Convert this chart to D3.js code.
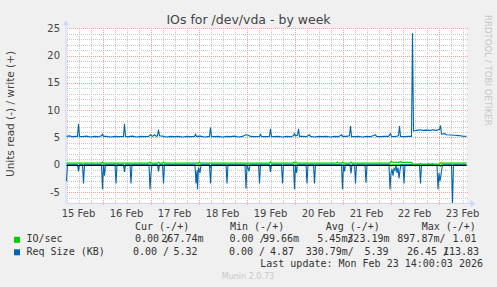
<!DOCTYPE html>
<html>
<head>
<meta charset="utf-8">
<script src="https://cdn.jsdelivr.net/npm/d3@7"></script>
<style>
  body { margin: 0; background: #f0f0f0; }
  svg { display: block; }
  text { font-family: "DejaVu Sans", sans-serif; }
  .mono { font-family: "DejaVu Sans Mono", monospace; font-size: 10px; fill: #333; white-space: pre; }
</style>
</head>
<body>
<div id="chart"></div>
<script>
// hours since 15 Feb 06:00 and values
var writeSize = [
  [0,5.2],[1.5,5.3],[3,5.15],[4.5,5.2],[5.5,5.2],[6,7.5],[6.5,5.2],[8,5.15],[10,5.25],[12,5.1],
  [14,5.2],[16,5.15],[17.5,5.3],[18,5.6],[18.5,5.2],[20,5.2],[22,5.1],[24,5.2],[26,5.15],[28.5,5.2],
  [29,7.5],[29.5,5.2],[31,5.15],[33,5.25],[35,5.1],[37,5.2],[39,5.15],[41,5.2],[42,5.5],[43,5.2],
  [44,5.5],[45,5.2],[45.5,5.3],[46,6.4],[46.5,5.3],[48,5.25],[50,5.1],[52,5.2],[54,5.15],[56,5.2],
  [58,5.1],[60,5.2],[62,5.15],[64,5.2],[64.5,5.6],[65,5.2],[67,5.25],[69,5.1],[71.5,5.2],[72,6.8],
  [72.5,5.2],[74,5.15],[76,5.2],[78,5.1],[80,5.2],[82,5.15],[84,5.25],[86,5.1],[88,5.2],[89.5,5.5],
  [91,5.4],[92,5.2],[94,5.15],[96.5,5.2],[97,5.6],[97.5,5.2],[99,5.15],[101.5,5.2],[102,6.6],[102.5,5.2],
  [104,5.15],[106,5.2],[108,5.1],[110,5.2],[112,5.15],[113.5,5.3],[114,5.7],[114.5,5.3],[115.5,5.4],[116,6.6],
  [116.5,5.2],[118,5.2],[120,5.15],[121.5,5.5],[122,5.2],[124,5.1],[126,5.2],[128,5.15],[130,5.2],[132,5.1],
  [134,5.2],[136,5.15],[137.5,5.5],[138,5.2],[140,5.2],[141.5,5.3],[142,7.1],[142.5,5.2],[144,5.15],[146,5.2],
  [148,5.1],[150,5.2],[152,5.15],[154.5,5.5],[155,5.2],[157,5.15],[159,5.2],[161,5.2],[162,5.7],[162.5,5.2],
  [164,5.15],[166,5.3],[166.5,7.1],[167,5.2],[169,5.15],[171,5.2],[172.5,5.2],[173,24.1],[173.5,6.2],[175,6.3],
  [177,6.4],[178,6.3],[180,6.35],[182,6.3],[183,6.4],[185,6.3],[186.5,6.5],[187,7.2],[187.5,5.6],[189,5.7],
  [190,5.5],[192,5.45],[194,5.4],[196,5.35],[198,5.25],[200,5.2]
];
var readSize = [
  [0,-3],[0.5,0],[5.5,0],[6,-1.2],[6.5,0],[8,0],[8.5,-3.4],[9,0],[17.5,0],[18,-4.5],[18.5,0],[19,-2],[19.5,0],
  [24.25,0],[24.75,-3.4],[25.25,0],[28.5,0],[29,-1.3],[29.5,0],[31.75,0],[32.25,-3.4],[32.75,0],
  [41.25,0],[41.75,-4.5],[42.25,-1.5],[42.75,0],[45.5,0],[46,-1.2],[46.5,0],[48,0],[48.5,-3.4],[49,0],
  [64.25,0],[64.75,-3.4],[65.25,-1],[65.5,-4.5],[66,-0.5],[66.75,-1.5],[67.25,0],[71.5,0],[72,-3.4],[72.5,0],
  [79.75,0],[80.25,-3.4],[80.75,0],[89.25,0],[89.75,-4.4],[90.25,0],[91.25,-1.2],[91.75,0],[96,0],[96.5,-3.4],[97,0],
  [101.5,0],[102,-1.3],[102.5,0],[107.5,0],[108,-3.4],[108.5,0],[113.5,0],[114,-4.5],[114.5,0],[115,-1.5],[115.5,0],
  [119.75,0],[120.25,-3.4],[120.75,0],[123.5,0],[124,-3.4],[124.5,0],[137.5,0],[138,-4.5],[138.5,0],[139,-1.2],[139.5,0],
  [141.75,0],[142.25,-1.6],[142.75,0],[144,0],[144.5,-3.4],[145,0],[149.25,0],[149.75,-3.3],[150.25,0],
  [161.25,0],[161.75,-4.5],[162.25,-1.5],[162.75,-0.8],[163.25,-2],[163.75,-0.7],[164.25,-1],[164.75,0],[165.25,-1.5],
  [165.75,-0.5],[166.25,-2.5],[166.75,-1],[167.25,0],[168.25,0],[168.75,-3.4],[169.25,0],[176.5,0],[177,-3.4],[177.5,0],
  [185.25,0],[185.75,-4.5],[186.25,-1.5],[186.75,-3],[187.25,-1.8],[187.75,-0.5],[188.25,0],[192.5,0],[193,-7],[193.5,0],[200,0]
];
var writeIO = [
  [0,0.3],[17.5,0.3],[18,0.5],[18.5,0.3],[41.25,0.3],[41.75,0.5],[42.25,0.3],[45.5,0.3],[46,0.45],[46.5,0.3],
  [48,0.3],[48.5,0.5],[49,0.3],[66,0.3],[66.5,0.5],[67,0.3],[101.5,0.3],[102,0.55],[102.5,0.3],
  [113.25,0.3],[113.75,0.5],[114.25,0.3],[114.75,0.5],[115.25,0.3],[135,0.3],[135.5,0.45],[136,0.3],
  [137.5,0.3],[138,0.5],[138.5,0.3],[141.75,0.3],[142.25,0.5],[142.75,0.3],[161.75,0.3],[162.25,0.6],
  [163,0.5],[166.5,0.45],[167,0.6],[167.5,0.45],[172.5,0.45],[173,0.13],[176.5,0.12],[177,0.22],[177.5,0.12],
  [180.5,0.12],[181,0.2],[182,0.14],[183,0.2],[183.5,0.12],[186.5,0.15],[187,0.35],[187.5,0.3],[200,0.3]
];
var readIO = [
  [0,0],[5.5,0],[6,-0.4],[6.5,0],[28.5,0],[29,-0.4],[29.5,0],[45.5,0],[46,-0.3],[46.5,0],[71.5,0],[72,-0.4],[72.5,0],
  [101.5,0],[102,-0.4],[102.5,0],[141.75,0],[142.25,-0.3],[142.75,0],[186.5,0],[187,-0.3],[187.5,0],[200,0]
];
var dayLabels = ["15 Feb","16 Feb","17 Feb","18 Feb","19 Feb","20 Feb","21 Feb","22 Feb","23 Feb"];
var yTicks = [-5, 0, 5, 10, 15, 20, 25];
var legendNames = ["IO/sec", "Req Size (KB)"];
var legendColors = ["#00cc00", "#0066b3"];
var legendHead = ["Cur (-/+)", "Min (-/+)", "Avg (-/+)", "Max (-/+)"];
var legendNeg = [["0.00 /", "0.00 /", "5.45m/", "897.87m/"], ["0.00 /", "0.00 /", "330.79m/", "26.45 /"]];
var legendPos = [["267.74m", "99.66m", "323.19m", " 1.01"], ["5.32", "4.87", "5.39", "113.83"]];

var W = 497, H = 287;
var start = Date.UTC(2026, 1, 15, 6, 0);
var end = Date.UTC(2026, 1, 23, 14, 0);
var pLeft = 66.5, pRight = 466.5, pTop = 28.3, pBottom = 203;

var x = d3.scaleUtc().domain([new Date(start), new Date(end)]).range([pLeft, pRight]);
var y = d3.scaleLinear().domain([-7, 25]).range([pBottom, pTop]);
function t(h) { return new Date(start + h * 3600e3); }

var svg = d3.select('#chart').append('svg').attr('width', W).attr('height', H);
svg.append('rect').attr('width', W).attr('height', H).attr('fill', '#f0f0f0');
svg.append('rect').attr('x', pLeft).attr('y', pTop).attr('width', pRight - pLeft).attr('height', pBottom - pTop).attr('fill', '#fff');

// grid
var g = svg.append('g').attr('shape-rendering', 'crispEdges');
var minorY = d3.range(-7, 26).filter(function(v) { return v % 5 !== 0; });
g.selectAll('.hmin').data(minorY).enter().append('line')
  .attr('x1', pLeft).attr('x2', pRight + 2)
  .attr('y1', function(d) { return Math.round(y(d)) + 0.5; }).attr('y2', function(d) { return Math.round(y(d)) + 0.5; })
  .attr('stroke', '#c8c8c8').attr('stroke-dasharray', '1,1');
var hours6 = d3.utcHour.every(6).range(new Date(start), new Date(end));
g.selectAll('.vmin').data(hours6.filter(function(d) { return d.getUTCHours() !== 0; })).enter().append('line')
  .attr('x1', function(d) { return Math.round(x(d)) + 0.5; }).attr('x2', function(d) { return Math.round(x(d)) + 0.5; })
  .attr('y1', pTop).attr('y2', pBottom)
  .attr('stroke', '#c8c8c8').attr('stroke-dasharray', '1,1');
g.selectAll('.hmaj').data(yTicks).enter().append('line')
  .attr('x1', pLeft).attr('x2', pRight + 2)
  .attr('y1', function(d) { return Math.round(y(d)) + 0.5; }).attr('y2', function(d) { return Math.round(y(d)) + 0.5; })
  .attr('stroke', '#f0a0a0').attr('stroke-dasharray', '1,1');
g.selectAll('.vmaj').data(d3.utcDay.range(new Date(start), new Date(end))).enter().append('line')
  .attr('x1', function(d) { return Math.round(x(d)) + 0.5; }).attr('x2', function(d) { return Math.round(x(d)) + 0.5; })
  .attr('y1', pTop).attr('y2', pBottom + 3)
  .attr('stroke', '#f0a0a0').attr('stroke-dasharray', '1,1');

// axes (rrd style)
svg.append('line').attr('x1', pLeft - 0.5).attr('x2', pLeft - 0.5).attr('y1', pTop - 6).attr('y2', pBottom).attr('stroke', '#cfd6f8');
svg.append('line').attr('x1', pLeft).attr('x2', pRight + 6).attr('y1', pBottom + 0.5).attr('y2', pBottom + 0.5).attr('stroke', '#cfd6f8');
svg.append('path').attr('d', 'M' + (pLeft - 3.5) + ',' + (pTop - 3) + 'L' + (pLeft - 0.5) + ',' + (pTop - 8) + 'L' + (pLeft + 2.5) + ',' + (pTop - 3) + 'Z').attr('fill', '#cfd6f8');
svg.append('path').attr('d', 'M' + (pRight + 4) + ',' + (pBottom - 3) + 'L' + (pRight + 9) + ',' + (pBottom + 0.5) + 'L' + (pRight + 4) + ',' + (pBottom + 4) + 'Z').attr('fill', '#cfd6f8');

// series
var line = d3.line().x(function(d) { return x(t(d[0])); }).y(function(d) { return y(d[1]); });
svg.append('path').datum(readIO).attr('d', line).attr('fill', 'none').attr('stroke', '#00cc00').attr('stroke-width', 1.2);
svg.append('path').datum(readSize).attr('d', line).attr('fill', 'none').attr('stroke', '#0066b3').attr('stroke-width', 1.1);
var zy = Math.round(y(0)) + 0.5;
svg.append('line').attr('x1', pLeft).attr('x2', pRight).attr('y1', zy).attr('y2', zy).attr('stroke', '#000').attr('stroke-width', 1.2);
svg.append('path').datum(writeIO).attr('d', line).attr('fill', 'none').attr('stroke', '#00cc00').attr('stroke-width', 1.2);
svg.append('path').datum(writeSize).attr('d', line).attr('fill', 'none').attr('stroke', '#0066b3').attr('stroke-width', 1.1);

// tick labels
svg.selectAll('.yl').data(yTicks).enter().append('text')
  .attr('x', 60).attr('y', function(d) { return y(d) + 3.5; })
  .attr('text-anchor', 'end').attr('font-size', 10).attr('fill', '#444')
  .text(function(d) { return d; });
var noons = d3.utcDay.range(new Date(start - 86400e3), new Date(end)).map(function(d) { return d3.utcHour.offset(d, 12); })
  .filter(function(d) { return d >= start; });
svg.selectAll('.xl').data(noons).enter().append('text')
  .attr('x', function(d) { return x(d); }).attr('y', 216.5)
  .attr('text-anchor', 'middle').attr('font-size', 10).attr('fill', '#444')
  .text(function(d, i) { return dayLabels[i]; });

svg.append('text').attr('x', 248.5).attr('y', 23.5).attr('text-anchor', 'middle')
  .attr('font-size', 12.5).attr('fill', '#444').text('IOs for /dev/vda - by week');
svg.append('text').attr('transform', 'translate(14,114) rotate(-90)').attr('text-anchor', 'middle')
  .attr('font-size', 10.5).attr('fill', '#444').text('Units read (-) / write (+)');
svg.append('text').attr('transform', 'translate(484.5,15) rotate(90)').attr('text-anchor', 'start')
  .attr('font-size', 8.6).attr('fill', '#c8c8c8').text('RRDTOOL / TOBI OETIKER');

// legend
var colX = [135, 230, 325.7, 421.7];
var negX = [[135, 229.5, 317.3, 397.3], [133, 229, 305.7, 407]];
var posEnd = [[203.5, 299, 389.5, 476.5], [197.5, 294, 388.5, 479]];
var rowY = [242.3, 254.8];
svg.selectAll('.lh').data(legendHead).enter().append('text').attr('class', 'mono')
  .attr('x', function(d, i) { return colX[i]; }).attr('y', 230.3).text(function(d) { return d; });
legendNames.forEach(function(name, r) {
  svg.append('rect').attr('x', 14).attr('y', rowY[r] - 5.5).attr('width', 6).attr('height', 6).attr('fill', legendColors[r]);
  svg.append('text').attr('class', 'mono').attr('x', 26.5).attr('y', rowY[r]).text(name);
  legendNeg[r].forEach(function(s, c) {
    svg.append('text').attr('class', 'mono').attr('x', negX[r][c]).attr('y', rowY[r]).text(s);
    svg.append('text').attr('class', 'mono').attr('x', posEnd[r][c]).attr('y', rowY[r]).attr('text-anchor', 'end').text(legendPos[r][c]);
  });
});
svg.append('text').attr('class', 'mono').attr('x', 483).attr('y', 267.2).attr('text-anchor', 'end')
  .text('Last update: Mon Feb 23 14:00:03 2026');
svg.append('text').attr('x', 248).attr('y', 278.5).attr('text-anchor', 'middle')
  .attr('font-size', 8).attr('fill', '#c8c8c8').text('Munin 2.0.73');
</script>
</body>
</html>
